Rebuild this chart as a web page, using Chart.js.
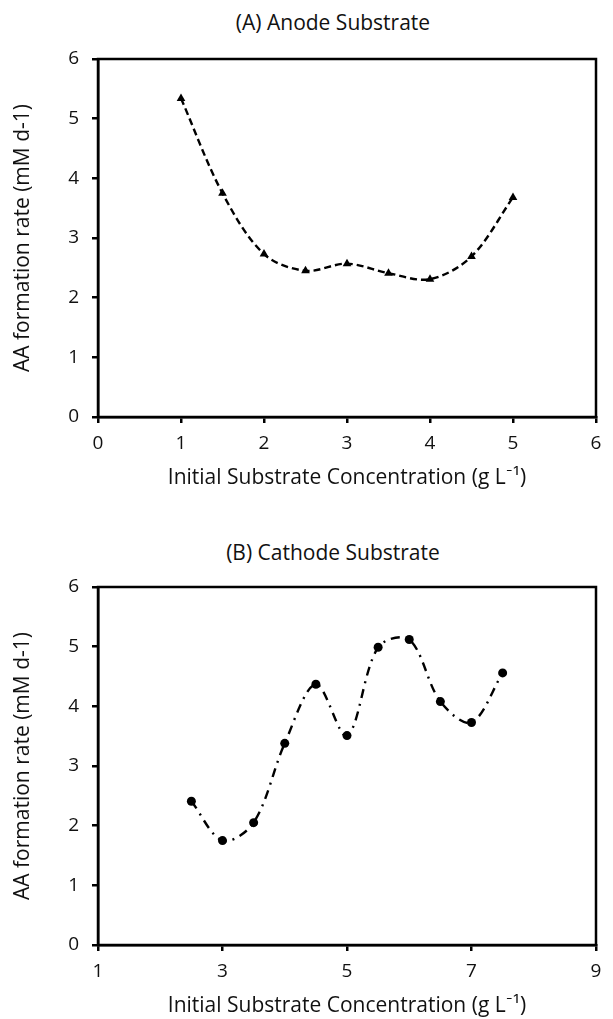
<!DOCTYPE html>
<html>
<head>
<meta charset="utf-8">
<script src="https://cdn.jsdelivr.net/npm/chart.js@4/dist/chart.umd.min.js"></script>
<style>
  html, body { margin: 0; padding: 0; background: #fff; }
  body { width: 613px; height: 1019px; position: relative; overflow: hidden; font-family: "Open Sans", Lato, sans-serif; }
  .ttl { position: absolute; left: 0; width: 666px; text-align: center; font-size: 21px; color: #111; line-height: 24px; }
  .box { position: absolute; left: 0; width: 613px; height: 491px; }
</style>
</head>
<body>
<div class="ttl" style="top:10px;">(A) Anode Substrate</div>
<div class="ttl" style="top:540px;">(B) Cathode Substrate</div>
<div class="box" style="top:0px;"><canvas id="cA" width="613" height="491"></canvas></div>
<div class="box" style="top:528px;"><canvas id="cB" width="613" height="491"></canvas></div>
<script>
// ---- Data ----
const anodeConc = [1, 1.5, 2, 2.5, 3, 3.5, 4, 4.5, 5];
const anodeRate = [5.34, 3.75, 2.73, 2.45, 2.57, 2.41, 2.31, 2.69, 3.68];

const cathodeConc = [2.5, 3, 3.5, 4, 4.5, 5, 5.5, 6, 6.5, 7, 7.5];
const cathodeRate = [2.41, 1.75, 2.05, 3.38, 4.37, 3.51, 4.99, 5.12, 4.08, 3.73, 4.56];

const anodeXRange = [0, 6, 1];   // min, max, step
const cathodeXRange = [1, 9, 2];
const yRange = [0, 6, 1];

const xTitle = 'Initial Substrate Concentration (g L\u207B\u00B9)';
const yTitle = 'AA formation rate (mM d-1)';

// ---- Styling helpers ----
const FONT = '"Open Sans", Lato, sans-serif';
const INK = '#000';

const frame = {
  id: 'frame',
  afterDatasetsDraw(chart) {
    const a = chart.chartArea, ctx = chart.ctx;
    ctx.save();
    ctx.strokeStyle = INK;
    ctx.lineWidth = 2.5;
    ctx.strokeRect(a.left, a.top, a.right - a.left, a.bottom - a.top);
    ctx.restore();
  }
};

function makeChart(id, xs, ys, xr, dash, marker, radius) {
  const pts = xs.map((x, i) => ({ x: x, y: ys[i] }));
  return new Chart(document.getElementById(id), {
    type: 'line',
    data: {
      datasets: [{
        data: pts,
        borderColor: INK,
        backgroundColor: INK,
        borderWidth: 2.4,
        borderDash: dash,
        tension: 0.33,
        pointStyle: marker,
        pointRadius: radius,
        pointBorderWidth: 0,
        pointBackgroundColor: INK,
        fill: false
      }]
    },
    options: {
      responsive: false,
      animation: false,
      events: [],
      layout: { padding: { left: 0, right: 17, top: 59, bottom: 0 } },
      plugins: { legend: { display: false }, tooltip: { enabled: false }, title: { display: false } },
      scales: {
        x: {
          type: 'linear',
          min: xr[0], max: xr[1],
          afterFit(s) { s.height = 74; },
          ticks: { stepSize: xr[2], color: '#111', padding: 9, font: { family: FONT, size: 19 } },
          grid: { display: true, drawOnChartArea: false, drawTicks: true, tickLength: 6, color: INK, lineWidth: 2.5 },
          border: { display: true, color: INK, width: 2.5 },
          title: { display: true, text: xTitle, color: '#111', font: { family: FONT, size: 21 }, padding: { top: 0, bottom: 0.5 } }
        },
        y: {
          min: yRange[0], max: yRange[1],
          afterFit(s) { s.width = 98; },
          ticks: { stepSize: yRange[2], color: '#111', padding: 13, font: { family: FONT, size: 19 } },
          grid: { display: true, drawOnChartArea: false, drawTicks: true, tickLength: 6, color: INK, lineWidth: 2.5 },
          border: { display: true, color: INK, width: 2.5 },
          title: { display: true, text: yTitle, color: '#111', font: { family: FONT, size: 21 }, padding: { top: 10, bottom: 0 } }
        }
      }
    },
    plugins: [frame]
  });
}

makeChart('cA', anodeConc, anodeRate, anodeXRange, [7, 4], 'triangle', 5);
makeChart('cB', cathodeConc, cathodeRate, cathodeXRange, [9, 6, 2, 6], 'circle', 4.5);
</script>
</body>
</html>
